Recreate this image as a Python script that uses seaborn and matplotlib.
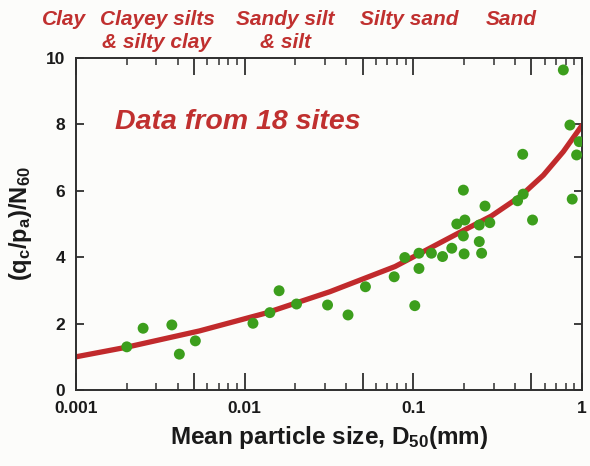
import matplotlib
matplotlib.use("Agg")
import matplotlib.pyplot as plt
import matplotlib.ticker as mticker
import seaborn as sns
import pandas as pd

# ---- data ----
d50_mm = [0.0020, 0.0025, 0.0037, 0.0041, 0.0051, 0.0112, 0.0141, 0.016, 0.0203,
          0.031, 0.041, 0.052, 0.077, 0.089, 0.102, 0.108, 0.108, 0.128, 0.149,
          0.169, 0.181, 0.198, 0.202, 0.198, 0.200, 0.246, 0.246, 0.254, 0.266,
          0.284, 0.415, 0.448, 0.445, 0.509, 0.775, 0.848, 0.875, 0.962, 0.929]
ratio = [1.30, 1.86, 1.96, 1.08, 1.48, 2.01, 2.33, 2.99, 2.59,
         2.56, 2.26, 3.11, 3.41, 3.99, 2.54, 4.12, 3.66, 4.12, 4.02,
         4.27, 5.00, 6.02, 5.12, 4.64, 4.10, 4.97, 4.47, 4.12, 5.54,
         5.04, 5.70, 5.90, 7.10, 5.12, 9.64, 7.98, 5.75, 7.48, 7.08]

curve_d50 = [0.001, 0.002, 0.0054, 0.0132, 0.032, 0.078, 0.189, 0.29, 0.43,
             0.59, 0.775, 1.0]
curve_ratio = [1.00, 1.29, 1.78, 2.31, 2.96, 3.72, 4.75, 5.24, 5.83,
               6.47, 7.18, 7.97]

x_ticks = [0.001, 0.01, 0.1, 1]
x_tick_labels = ["0.001", "0.01", "0.1", "1"]
y_ticks = [0, 2, 4, 6, 8, 10]

soil_labels = ["Clay", "Clayey silts\n& silty clay", "Sandy silt\n& silt",
               "Silty sand", "Sand"]
soil_label_x_px = [64, 157, 285, 409, 511]

# ---- styling ----
sns.set_theme(style="ticks")
plt.rcParams["font.family"] = ["Liberation Sans", "DejaVu Sans"]
plt.rcParams["font.weight"] = "bold"
plt.rcParams["mathtext.default"] = "regular"

RED = "#c0302f"
GREEN = "#3c9e1c"
DARK = "#2e2e2e"

W, H = 590, 466
fig = plt.figure(figsize=(W / 100, H / 100), dpi=100)
fig.patch.set_facecolor("#fcfcfa")
L, R, B, T = 76, 582, 390, 58
ax = fig.add_axes([L / W, 1 - B / H, (R - L) / W, (B - T) / H])
ax.set_facecolor("#fcfcfa")

pts = pd.DataFrame({"d50": d50_mm, "ratio": ratio})
crv = pd.DataFrame({"d50": curve_d50, "ratio": curve_ratio})

sns.lineplot(data=crv, x="d50", y="ratio", ax=ax, color="#c12a2c", linewidth=3.8,
             estimator=None, sort=True, zorder=2)
sns.scatterplot(data=pts, x="d50", y="ratio", ax=ax, color=GREEN, s=62,
                edgecolor="none", zorder=3)

ax.set_xscale("log")
ax.set_xlim(0.001, 1)
ax.set_ylim(0, 10)

major = [0.001, 0.005, 0.01, 0.05, 0.1, 0.5, 1]
ax.xaxis.set_major_locator(mticker.FixedLocator(major))
ax.xaxis.set_major_formatter(mticker.FixedFormatter(
    [x_tick_labels[x_ticks.index(m)] if m in x_ticks else "" for m in major]))
ax.xaxis.set_minor_locator(mticker.LogLocator(base=10, subs=[2, 3, 4, 6, 7, 8, 9]))
ax.xaxis.set_minor_formatter(mticker.NullFormatter())
ax.set_yticks(y_ticks)
ax.set_yticklabels([str(v) for v in y_ticks])

ax.tick_params(axis="x", which="major", direction="in", length=12, width=1.3,
               top=True, bottom=True, color=DARK, labelsize=12.5, pad=8,
               labelcolor="#1a1a1a")
ax.tick_params(axis="x", which="minor", direction="in", length=5, width=1.1,
               top=True, bottom=True, color=DARK)
ax.tick_params(axis="y", which="major", direction="in", length=6, width=1.3,
               left=True, right=True, color=DARK, labelsize=12.5, pad=8,
               labelcolor="#1a1a1a")
for sp in ax.spines.values():
    sp.set_color(DARK)
    sp.set_linewidth(1.4)
for lab in ax.get_xticklabels() + ax.get_yticklabels():
    lab.set_fontweight("bold")

ax.set_xlabel("Mean particle size, D$_{50}$(mm)", fontsize=17.5, fontweight="bold",
              color="#1a1a1a", labelpad=6)
ax.set_ylabel("(q$_{c}$/p$_{a}$)/N$_{60}$", fontsize=17, fontweight="bold",
              color="#1a1a1a", labelpad=8)

ax.text((115 - L) / (R - L), (B - 122) / (B - T), "Data from 18 sites",
        transform=ax.transAxes, ha="left", va="center", fontsize=20.5,
        fontweight="bold", fontstyle="italic", color=RED)

for lab, xp in zip(soil_labels, soil_label_x_px):
    fig.text(xp / W, 1 - 25 / H, lab.split("\n")[0], ha="center", va="baseline",
             fontsize=15, fontweight="bold", fontstyle="italic", color=RED)
    if "\n" in lab:
        fig.text(xp / W, 1 - 48 / H, lab.split("\n")[1], ha="center",
                 va="baseline", fontsize=15, fontweight="bold",
                 fontstyle="italic", color=RED)

fig.savefig("out.png", dpi=100, facecolor=fig.get_facecolor())
